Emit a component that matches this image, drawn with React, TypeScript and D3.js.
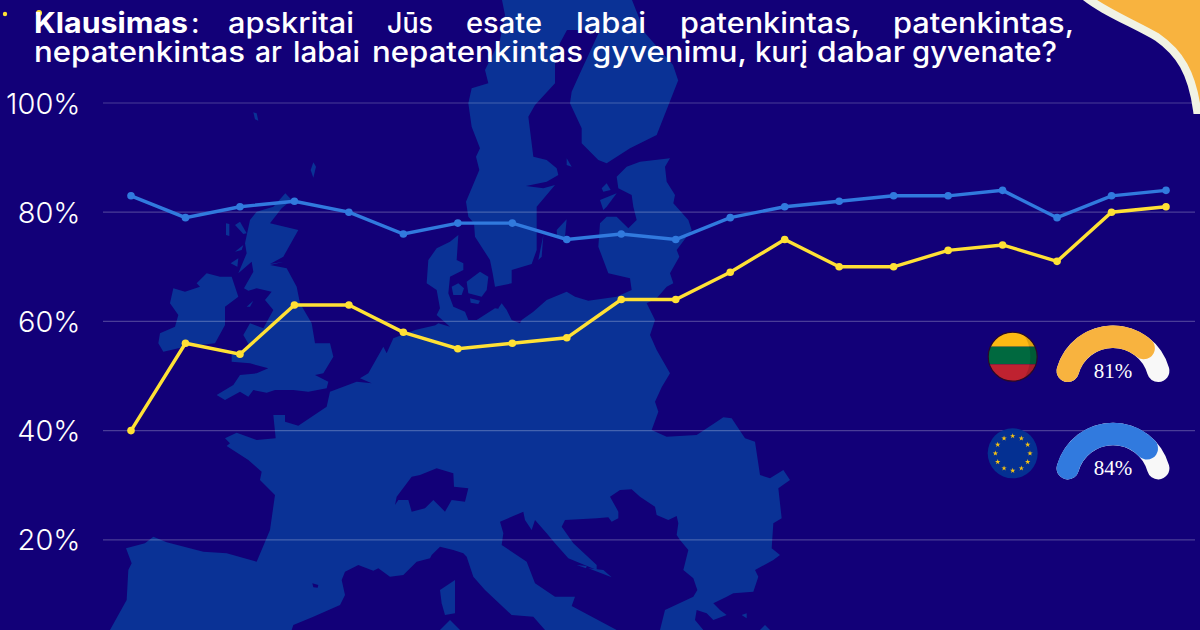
import React from "react";
import * as d3 from "d3";

const W = 1200, H = 630;
const periods = d3.range(20).map(String);
const euValues = [83,79,81,82,80,76,78,78,75,76,75,79,81,82,83,83,84,79,83,84];
const ltValues = [40,56,54,63,63,58,55,56,57,64,64,69,75,70,70,73,74,71,80,81];
const yTicks = [20,40,60,80,100];
const gauges = [
  { label: "81%", value: 81, color: "#f8b33f", cy: 383.7 },
  { label: "84%", value: 84, color: "#317ade", cy: 481 },
];

const line1 = ["apskritai","Jūs","esate","labai","patenkintas,","patenkintas,"];
const line1Span = [[228,354],[387,433],[466,542],[576,646],[680,860],[893,1074]];
const line2 = ["nepatenkintas","ar","labai","nepatenkintas","gyvenimu,","kurį","dabar","gyvenate?"];
const line2Span = [[34,245],[255,282],[293,360],[372,583],[592,747],[755,808],[817,905],[912,1057]];

const BG = "#120078", LAND = "#0a3296";
const FONT = "Inter, 'Open Sans', sans-serif";

// decorative background map, traced in crop coordinates (3x) around an origin
const at = (ox: number, oy: number, f: number[]): [number, number][] => {
  const out: [number, number][] = [];
  for (let i = 0; i < f.length; i += 2) out.push([ox + f[i] / 3, oy + f[i + 1] / 3]);
  return out;
};
const full = (f: number[]) => at(0, 0, f.map((v) => v * 3));

const continent = [
  ...at(400,60,[810,295,795,320,800,365,825,405,820,430,865,480,875,510,830,570,838,590,810,640,820,670,800,680,770,715,740,730,765,780,750,825,770,870,810,940,780,990]),
  ...at(440,380,[675,0,645,65,655,95,635,150,680,170,770,165,830,125,850,112,875,115,915,175,945,185,960,285,990,295,1030,270,1050,300,1015,325,1025,415,1000,430,995,505,1020,525,1000,540,945,570,955,590,940,635,880,640,860,650,820,670,840,690,860,705,820,720,800,700,770,690,765,720,790,750,660,750,
    675,690,760,650,772,630,760,595,730,570,745,510,720,480,710,465,715,430,710,408,685,420,650,405,645,380,600,350,575,328,540,330,510,350,535,395,535,415,515,425,505,412,470,415,375,420,365,440,400,490,470,555,470,570,385,535,345,490,320,460,285,420,275,450,255,420,250,395,180,425,190,460,185,495,260,545,285,610,345,650,405,650,395,678,530,750,315,750,280,710,215,705,135,630,100,590,80,530,70,520,40,510,0,500]),
  ...at(100,380,[995,525,990,535,950,545,910,585,870,590,835,565,820,572,775,555,735,575,725,600,735,645,720,675,640,710,580,735,575,750,30,750,80,660,85,570,95,550,78,505,135,490,160,470,200,487,310,515,380,520,470,545,510,450,525,345,480,300,485,275,445,240,380,198,390,190,375,175,410,158,470,180,527,175,520,105,555,105,555,125,595,137,680,80,690,35,770,5,815,10]),
  ...at(100,80,[780,895,805,880,850,800,860,820,880,775,945,750,1010,735]),
  ...at(400,60,[85,810,115,790,150,800,110,765,120,745,110,690,80,670,85,600,110,565,150,545,175,525,170,600,190,610,190,630,150,650,145,700,160,740,195,755,205,780,230,780,285,745,320,750,335,780,360,790,365,780,400,755,440,720,500,695,525,710,565,722,650,710,695,690,690,655,625,640,595,560,600,490,620,470,650,470,685,505,710,480,700,440,695,405,655,385,650,350,680,320,720,305]),
];

const fennoscandia = [
  ...at(400,60,[285,680,278,640,270,600,225,530,222,490,205,470,198,425,215,385,238,330,228,290,240,265,215,200,205,130,215,85,265,70,255,30]),
  ...full([500,40,505,15,502,0,632,0,645,33,673,65,678,80]),
  ...at(400,60,[835,60,770,225,690,265,620,310,595,300,545,250,545,205,510,130,515,95,540,40]),
  ...full([600,30,567,30,560,43,555,60]),
  ...at(400,60,[465,70,405,135,385,170,390,210,400,290,440,300,470,325,475,345,440,365,378,378,430,385,465,375,410,440,410,570,395,612,335,630,335,670]),
];

const britain = at(100,80,[556,340,575,360,545,385,510,430,595,450,550,530,510,552,552,545,510,555,560,565,590,620,600,670,635,730,645,790,690,790,700,830,670,880,645,885,685,905,680,925,625,935,580,930,525,930,500,938,460,930,445,950,420,935,375,960,350,945,400,915,420,885,470,880,505,865,450,850,395,845,395,825,450,800,430,765,450,730,490,745,520,690,495,660,515,635,470,625,445,632,432,625,460,575,455,545,415,580,440,520,435,490,450,420,470,395,520,380]);
const ireland = at(100,80,[290,610,320,580,360,590,395,590,415,650,375,680,375,735,345,790,255,800,190,815,175,790,180,760,225,740,235,705,210,670,220,625,255,635,300,620]);

const islands = [
  at(100,80,[460,97,470,100,475,122,465,118]),
  at(100,80,[640,247,648,260,640,293,632,270]),
  at(100,80,[378,430,388,432,388,468,378,465]),
  at(100,80,[405,435,420,425,440,460,430,462]),
  at(100,80,[405,515,430,495,425,510]),
  at(100,80,[392,550,415,535,412,560]),
  at(100,80,[440,680,460,662,450,680]),
  at(400,60,[200,665,240,635,265,650,260,690,245,710,205,700]),
  at(400,60,[155,680,175,670,192,685,185,705,160,705]),
  at(400,60,[210,715,240,722,235,732,212,728]),
  at(400,60,[295,745,305,730,320,750,300,755]),
  at(400,60,[605,385,620,370,632,390,610,395]),
  at(400,60,[600,420,650,400,620,440,610,450]),
  at(400,60,[470,510,500,478,495,530,472,535]),
  at(400,60,[415,600,430,525,425,590]),
  at(400,60,[500,295,515,320,500,315]),
  at(440,380,[0,630,45,600,45,700,15,705,5,670]),
  at(440,380,[0,750,30,720,60,750]),
  at(440,380,[905,705,920,700,920,715]),
  at(440,380,[960,750,975,735,990,750]),
  at(440,380,[410,555,440,558,438,565]),
  at(440,380,[445,565,490,570,515,592,480,578]),
];
const holes = [
  at(100,380,[885,375,890,350,935,290,960,285,1010,265,1060,280,1062,320,1105,325,1095,365,1055,360,1035,395,1000,360,975,385,935,395,925,360,895,360]),
  at(100,380,[637,610,655,615,653,623,640,622]),
];

const x = d3.scaleLinear().domain([0, periods.length - 1]).range([131, 1166]);
const y = d3.scaleLinear().domain([0, 100]).range([649, 103]);
const shape = d3.line<number>().x((_, i) => x(i)).y((d) => y(d));
const poly = (p: [number, number][]) => (d3.line()(p) as string) + "Z";

const toRad = (deg: number) => (deg * Math.PI) / 180;
const gaugeAngle = d3.scaleLinear().domain([0, 100]).range([toRad(-88), toRad(88)]);
const gaugeArc = d3.arc<{ v: number }>()
  .innerRadius(35.8).outerRadius(58.2).cornerRadius(11.2)
  .startAngle(gaugeAngle(0)).endAngle((d) => gaugeAngle(d.v));

const stars = d3.range(12).map((i) => (i * Math.PI) / 6);
const starPath = d3.symbol().type(d3.symbolStar).size(9)() as string;

function Words({ words, spans, base, size }: { words: string[]; spans: number[][]; base: number; size: number }) {
  return (
    <>
      {words.map((w, i) => (
        <text key={i} x={spans[i][0]} y={base} fontSize={size} fontWeight={500} fill="#fff" fontFamily={FONT}
          textLength={spans[i][1] - spans[i][0]} lengthAdjust="spacingAndGlyphs">{w}</text>
      ))}
    </>
  );
}

export default function App() {
  return (
    <svg width={W} height={H} viewBox={`0 0 ${W} ${H}`} style={{ position: "fixed", left: 0, top: 0, display: "block" }}>
      <rect width={W} height={H} fill={BG} />
      <g fill={LAND}>
        {[continent, fennoscandia, britain, ireland, ...islands].map((p, i) => <path key={i} d={poly(p)} />)}
      </g>
      <g fill={BG}>{holes.map((p, i) => <path key={i} d={poly(p)} />)}</g>

      <path d="M1082,-6 C1100,10 1133,23 1157,37 C1180,53 1192,73 1197,110 L1206,110 L1206,-6 Z" fill="#f8b33f" stroke="#f1f3e4" strokeWidth={8} />

      {yTicks.map((t) => (
        <g key={t}>
          <line x1={103} x2={1195} y1={y(t)} y2={y(t)} stroke="#fff" strokeOpacity={0.24} strokeWidth={1.2} />
          <text x={80.5} y={y(t) + 10.5} textAnchor="end" fontSize={29} fontWeight={300} fill="#fff" fontFamily={FONT}>{t}%</text>
        </g>
      ))}

      <path d={shape(euValues) as string} fill="none" stroke="#317ade" strokeWidth={3.4} />
      {euValues.map((v, i) => <circle key={i} cx={x(i)} cy={y(v)} r={3.8} fill="#317ade" />)}
      <path d={shape(ltValues) as string} fill="none" stroke="#ffe135" strokeWidth={3.4} />
      {ltValues.map((v, i) => <circle key={i} cx={x(i)} cy={y(v)} r={3.8} fill="#ffe135" />)}

      <circle cx={5} cy={14} r={2.2} fill="#ffe135" />
      <circle cx={39} cy={13} r={3} fill="#ffe135" />

      <text x={34} y={33} fontSize={28} fontWeight={700} fill="#fff" fontFamily={FONT} textLength={154} lengthAdjust="spacingAndGlyphs">Klausimas</text>
      <text x={191} y={33} fontSize={28} fontWeight={500} fill="#fff" fontFamily={FONT}>:</text>
      <Words words={line1} spans={line1Span} base={33} size={28} />
      <Words words={line2} spans={line2Span} base={62} size={28} />

      <defs>
        <clipPath id="lt"><circle cx={1012.7} cy={356.7} r={24.5} /></clipPath>
      </defs>
      <g clipPath="url(#lt)">
        <rect x={985} y={330} width={56} height={16.7} fill="#fdb913" />
        <rect x={985} y={346.7} width={56} height={17.6} fill="#00693f" />
        <rect x={985} y={364.3} width={56} height={20} fill="#bf2230" />
        <path d="M1022,332 A25,25 0 0 1 1022,381 A40,40 0 0 0 1022,332Z" fill="#000" fillOpacity={0.13} />
      </g>
      <circle cx={1012.7} cy={356.7} r={24.5} fill="none" stroke="#2a0a28" strokeWidth={1.2} />

      <circle cx={1012.7} cy={453.3} r={25} fill="#043092" />
      {stars.map((a, i) => (
        <path key={i} d={starPath} fill="#f6c313"
          transform={`translate(${1012.7 + 17.3 * Math.sin(a)},${453.3 - 17.3 * Math.cos(a)})`} />
      ))}

      {gauges.map((g) => (
        <g key={g.label} transform={`translate(1113,${g.cy})`}>
          <path d={gaugeArc({ v: 100 }) as string} fill="#f8f8f8" />
          <path d={gaugeArc({ v: g.value }) as string} fill={g.color} />
          <text y={-6} textAnchor="middle" fontSize={21} fill="#fff" fontFamily="'Liberation Serif', serif">{g.label}</text>
        </g>
      ))}
    </svg>
  );
}
